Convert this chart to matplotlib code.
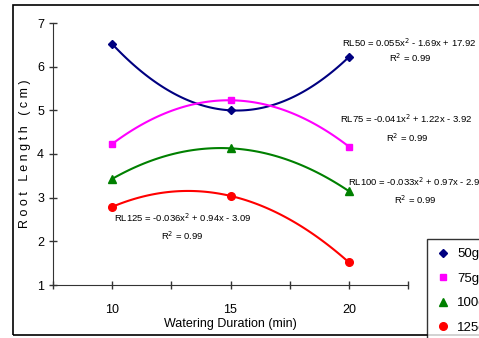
import numpy as np
import matplotlib.pyplot as plt
from matplotlib.patches import Rectangle

plt.rcParams['font.family'] = ['Liberation Sans', 'DejaVu Sans']

# data
duration = [10, 15, 20]
rl50 = [6.52, 5.00, 6.22]
rl75 = [4.23, 5.23, 4.17]
rl100 = [3.43, 4.13, 3.15]
rl125 = [2.79, 3.04, 1.52]

series = [
    ('50g', rl50, '#000080', 'D', 4),
    ('75g', rl75, '#ff00ff', 's', 5),
    ('100g', rl100, '#008000', '^', 6),
    ('125g', rl125, '#ff0000', 'o', 5.5),
]

# trend line labels: text, centre x, centre y, R2 centre x, R2 centre y
equations = [
    ('RL50 = 0.055x$^2$ - 1.69x + 17.92', 22.56, 6.56, 22.58, 6.20),
    ('RL75 = -0.041x$^2$ + 1.22x - 3.92', 22.43, 4.80, 22.45, 4.37),
    ('RL100 = -0.033x$^2$ + 0.97x - 2.94', 22.86, 3.36, 22.8, 2.95),
    ('RL125 = -0.036x$^2$ + 0.94x - 3.09', 12.99, 2.53, 12.95, 2.12),
]

fig = plt.figure(figsize=(4.79, 3.38), dpi=100)
ax = fig.add_axes([53 / 479, 1 - 285 / 338, 355 / 479, 262 / 338])

xs = np.linspace(10, 20, 100)
handles = []
for name, vals, col, mk, ms in series:
    coef = np.polyfit(duration, vals, 2)
    ax.plot(xs, np.polyval(coef, xs), color=col, lw=1.5)
    h, = ax.plot(duration, vals, ls='none', marker=mk, color=col, ms=ms)
    handles.append(h)

for eq, x1, y1, x2, y2 in equations:
    ax.text(x1, y1, eq, fontsize=6.8, ha='center', va='center', clip_on=False)
    ax.text(x2, y2, 'R$^2$ = 0.99', fontsize=6.8, ha='center', va='center', clip_on=False)

ax.set_xlim(7.5, 22.5)
ax.set_ylim(1, 7)
ax.set_xticks([7.5, 10, 12.5, 15, 17.5, 20, 22.5])
ax.set_xticklabels(['', '10', '', '15', '', '20', ''])
ax.set_yticks([1, 2, 3, 4, 5, 6, 7])
ax.tick_params(direction='inout', length=6, width=1, colors='#333333', labelsize=9, labelcolor='black')
ax.tick_params(axis='x', pad=11)
for s in ['top', 'right']:
    ax.spines[s].set_visible(False)
for s in ['left', 'bottom']:
    ax.spines[s].set_color('#333333')

ax.set_xlabel('Watering Duration (min)', fontsize=9, labelpad=1)
ax.set_ylabel('R o o t   L e n g t h   ( c m )', fontsize=9, labelpad=4)

leg = fig.legend(handles, [s[0] for s in series], loc='upper left',
                 bbox_to_anchor=(427 / 479, 1 - 239 / 338), fontsize=9.5,
                 frameon=True, fancybox=False, edgecolor='black',
                 handlelength=1.0, handletextpad=0.6, labelspacing=0.92,
                 borderpad=0.7, borderaxespad=0, markerscale=1.0)
leg.get_frame().set_linewidth(1)

fig.patches.append(Rectangle((13 / 479, 1 - 335 / 338), 1, 330 / 338,
                             transform=fig.transFigure, fill=False,
                             edgecolor='black', lw=1.2))

fig.savefig('out.png', dpi=100)
